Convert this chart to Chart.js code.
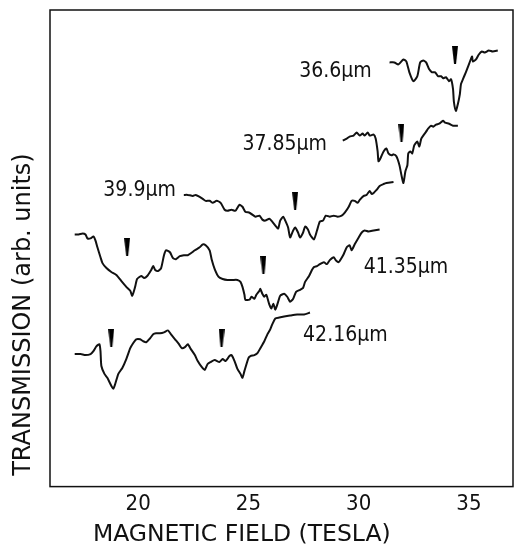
<!DOCTYPE html>
<html>
<head>
<meta charset="utf-8">
<script src="https://cdn.jsdelivr.net/npm/chart.js@4/dist/chart.umd.min.js"></script>
<style>
  html, body { margin: 0; padding: 0; background: #fff; overflow: hidden; }
  canvas { display: block; }
</style>
</head>
<body>
<canvas id="chart" width="518" height="548"></canvas>
<script>
// field axis (tesla)
const xTicks = [20, 25, 30, 35];

// traces, transmission in arbitrary units (offset per wavelength)
const wl366X = [31.40, 31.62, 31.80, 32.03, 32.16, 32.30, 32.48, 32.66, 32.79, 32.93, 33.06, 33.20, 33.33, 33.47, 33.60, 33.74, 33.83, 33.96, 34.10, 34.19, 34.28, 34.32, 34.41, 34.50, 34.59, 34.64, 34.73, 34.86, 35.00, 35.14, 35.18, 35.32, 35.45, 35.59, 35.72, 35.90, 36.08, 36.31];
const wl366Y = [429, 429, 427, 432, 430, 419, 410, 415, 429, 431, 429, 422, 419, 419, 415, 415, 413, 414, 410, 412, 402, 389, 380, 387, 397, 407, 412, 419, 427, 435, 430, 432, 437, 440, 439, 441, 440, 441];

const wl3785X = [29.28, 29.46, 29.59, 29.77, 29.91, 30.05, 30.18, 30.27, 30.41, 30.50, 30.68, 30.77, 30.86, 30.90, 30.99, 31.13, 31.26, 31.35, 31.49, 31.58, 31.71, 31.85, 31.94, 32.03, 32.12, 32.21, 32.25, 32.34, 32.43, 32.52, 32.66, 32.75, 32.84, 32.93, 33.06, 33.15, 33.29, 33.38, 33.51, 33.65, 33.83, 33.92, 34.10, 34.28, 34.50];
const wl3785Y = [350, 352, 354, 355, 358, 355, 357, 355, 358, 355, 356, 352, 339, 329, 332, 339, 342, 337, 335, 336, 334, 325, 315, 307, 319, 325, 337, 339, 337, 345, 349, 344, 352, 355, 359, 362, 365, 364, 366, 367, 370, 368, 367, 365, 365];

const wl399X = [22.07, 22.25, 22.48, 22.61, 22.79, 22.93, 23.06, 23.24, 23.38, 23.56, 23.74, 23.92, 24.05, 24.23, 24.41, 24.59, 24.73, 24.86, 25.05, 25.18, 25.32, 25.50, 25.63, 25.77, 25.95, 26.08, 26.22, 26.35, 26.44, 26.58, 26.67, 26.80, 26.89, 27.03, 27.12, 27.25, 27.34, 27.48, 27.57, 27.70, 27.79, 27.97, 28.11, 28.24, 28.38, 28.51, 28.69, 28.87, 29.05, 29.23, 29.37, 29.55, 29.68, 29.82, 29.95, 30.05, 30.23, 30.36, 30.50, 30.59, 30.68, 30.81, 30.95, 31.13, 31.26, 31.58];
const wl399Y = [295, 295, 294, 295, 293, 291, 289, 289, 287, 289, 287, 280, 279, 280, 279, 285, 283, 278, 277, 275, 273, 274, 270, 269, 271, 268, 264, 261, 269, 273, 269, 262, 252, 259, 262, 257, 252, 257, 263, 260, 255, 250, 259, 268, 269, 274, 273, 274, 273, 274, 277, 283, 289, 289, 287, 290, 294, 295, 299, 296, 297, 300, 304, 306, 307, 308];

const wl4135X = [17.12, 17.30, 17.48, 17.61, 17.70, 17.84, 17.97, 18.06, 18.15, 18.29, 18.38, 18.56, 18.78, 19.01, 19.23, 19.46, 19.64, 19.73, 19.86, 19.95, 20.14, 20.27, 20.41, 20.59, 20.68, 20.77, 20.90, 21.04, 21.17, 21.26, 21.44, 21.58, 21.71, 21.89, 22.07, 22.25, 22.39, 22.57, 22.79, 22.93, 23.06, 23.24, 23.33, 23.47, 23.65, 23.83, 24.05, 24.28, 24.50, 24.64, 24.73, 24.82, 24.86, 25.05, 25.14, 25.27, 25.36, 25.50, 25.54, 25.63, 25.72, 25.81, 25.95, 26.04, 26.13, 26.22, 26.35, 26.44, 26.62, 26.76, 26.89, 27.03, 27.16, 27.34, 27.48, 27.57, 27.75, 27.88, 27.97, 28.11, 28.24, 28.42, 28.56, 28.69, 28.87, 28.96, 29.10, 29.19, 29.32, 29.46, 29.59, 29.68, 29.82, 30.00, 30.14, 30.27, 30.45, 30.68, 30.95];
const wl4135Y = [255, 255, 256, 255, 251, 251, 253, 249, 242, 232, 226, 221, 217, 214, 208, 202, 198, 193, 202, 210, 213, 211, 213, 219, 223, 219, 218, 221, 234, 239, 237, 231, 230, 233, 234, 234, 236, 239, 242, 245, 244, 239, 230, 220, 212, 210, 209, 209, 209, 207, 202, 194, 189, 189, 192, 190, 194, 198, 200, 195, 192, 194, 184, 180, 185, 179, 187, 193, 195, 192, 187, 190, 197, 199, 201, 207, 213, 219, 222, 223, 225, 227, 225, 229, 232, 229, 227, 230, 235, 242, 244, 239, 245, 252, 257, 259, 258, 259, 260];

const wl4216X = [17.12, 17.39, 17.61, 17.84, 17.97, 18.11, 18.24, 18.29, 18.33, 18.47, 18.60, 18.78, 18.87, 18.96, 19.10, 19.28, 19.46, 19.64, 19.77, 19.91, 20.09, 20.23, 20.36, 20.54, 20.68, 20.81, 20.99, 21.17, 21.35, 21.49, 21.67, 21.85, 21.98, 22.12, 22.25, 22.39, 22.57, 22.70, 22.88, 23.02, 23.15, 23.29, 23.47, 23.69, 23.83, 23.96, 24.14, 24.23, 24.37, 24.50, 24.64, 24.73, 24.82, 25.00, 25.09, 25.27, 25.41, 25.54, 25.72, 25.86, 25.99, 26.08, 26.22, 26.40, 26.62, 26.89, 27.21, 27.52, 27.79];
const wl4216Y = [134, 134, 133, 134, 137, 142, 144, 137, 122, 114, 110, 102, 99, 104, 114, 120, 129, 140, 145, 149, 149, 147, 146, 150, 154, 155, 155, 156, 158, 154, 149, 144, 140, 141, 144, 139, 133, 127, 121, 118, 124, 126, 128, 126, 129, 127, 132, 133, 127, 119, 114, 110, 117, 130, 132, 133, 135, 140, 147, 154, 159, 164, 170, 171, 172, 173, 174, 174, 176];

// arrow markers above the resonances
const markX = [34.37, 31.94, 27.12, 19.50, 25.68, 18.78, 23.78];
const markY = [436.5, 358, 289, 242.5, 224, 150.5, 150.5];

// wavelength labels
const seriesNames = ['36.6\u00b5m', '37.85\u00b5m', '39.9\u00b5m', '41.35\u00b5m', '42.16\u00b5m'];
const nameX = [27.30, 24.73, 18.42, 30.23, 27.48];
const nameY = [420, 346, 299, 222, 153];

const FONT = '"DejaVu Sans Condensed", "DejaVu Sans", sans-serif';
const TITLE_FONT = '"DejaVu Sans", sans-serif';

function pts(xs, ys) {
    return xs.map((x, i) => ({ x: x, y: ys[i] }));
}

// small wedge used as the marker glyph
function wedge() {
    const c = document.createElement('canvas');
    c.width = 6;
    c.height = 18;
    const g = c.getContext('2d');
    g.fillStyle = '#000';
    g.beginPath();
    g.moveTo(0, 0);
    g.lineTo(6, 0);
    g.lineTo(4, 18);
    g.lineTo(2, 18);
    g.closePath();
    g.fill();
    return c;
}

function trace(label, xs, ys) {
    return {
        label: label,
        data: pts(xs, ys),
        showLine: true,
        borderColor: '#111',
        borderWidth: 2,
        pointRadius: 0,
        tension: 0.2
    };
}

const decor = {
    id: 'decor',
    afterDraw(chart) {
        const ctx = chart.ctx;
        const a = chart.chartArea;
        const xs = chart.scales.x;
        const ys = chart.scales.y;
        ctx.save();
        ctx.strokeStyle = '#111';
        ctx.lineWidth = 1.5;
        ctx.strokeRect(a.left, a.top, a.right - a.left, a.bottom - a.top);

        ctx.fillStyle = '#111';
        ctx.font = '21px ' + FONT;
        ctx.textAlign = 'left';
        ctx.textBaseline = 'middle';
        seriesNames.forEach((n, i) => {
            ctx.fillText(n, xs.getPixelForValue(nameX[i]), ys.getPixelForValue(nameY[i]));
        });

        ctx.font = '23.5px ' + TITLE_FONT;
        ctx.textAlign = 'center';
        ctx.fillText('MAGNETIC FIELD (TESLA)', xs.getPixelForValue(24.7), chart.height - 13);

        ctx.font = '24px ' + TITLE_FONT;
        ctx.translate(24, ys.getPixelForValue(174));
        ctx.rotate(-Math.PI / 2);
        ctx.fillText('TRANSMISSION (arb. units)', 0, 0);
        ctx.restore();
    }
};

new Chart(document.getElementById('chart'), {
    type: 'scatter',
    data: {
        datasets: [
            trace(seriesNames[0], wl366X, wl366Y),
            trace(seriesNames[1], wl3785X, wl3785Y),
            trace(seriesNames[2], wl399X, wl399Y),
            trace(seriesNames[3], wl4135X, wl4135Y),
            trace(seriesNames[4], wl4216X, wl4216Y),
            {
                label: 'markers',
                data: pts(markX, markY),
                pointStyle: wedge(),
                showLine: false
            }
        ]
    },
    options: {
        responsive: false,
        animation: false,
        layout: { padding: { left: 50, top: 10, right: 1, bottom: 27 } },
        plugins: {
            legend: { display: false },
            tooltip: { enabled: false }
        },
        scales: {
            x: {
                type: 'linear',
                min: 16,
                max: 37,
                afterBuildTicks: (s) => { s.ticks = xTicks.map(v => ({ value: v })); },
                grid: { display: false, drawTicks: false },
                border: { display: false },
                ticks: { color: '#111', font: { family: FONT, size: 22 }, padding: 4, maxRotation: 0 }
            },
            y: {
                type: 'linear',
                min: 0,
                max: 482,
                grid: { display: false, drawTicks: false },
                border: { display: false },
                ticks: { display: false }
            }
        }
    },
    plugins: [decor]
});
</script>
</body>
</html>
